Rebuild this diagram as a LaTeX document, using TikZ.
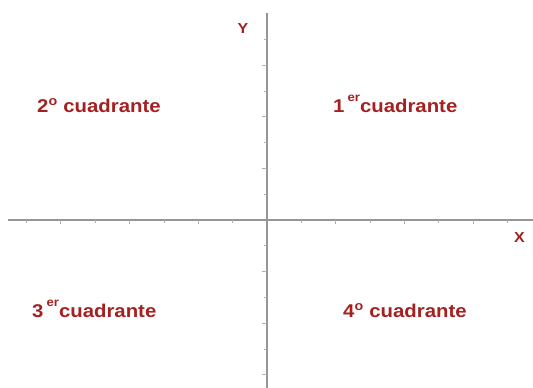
\documentclass[tikz,border=0pt]{standalone}
\usepackage{fontspec}
\newfontfamily\cuadfont{Liberation Sans}[FakeStretch=1.1]
\usepackage{tikz}
\definecolor{cuadred}{RGB}{165,32,32}
\definecolor{axisgray}{RGB}{150,150,150}
\definecolor{tickgray}{RGB}{175,175,175}
\newcommand{\supr}[1]{\raisebox{10.5pt}{\fontsize{12}{12}\selectfont #1}}

\begin{document}
\begin{tikzpicture}[x=1pt,y=-1pt,
    lbl/.style={text=cuadred,font=\cuadfont\bfseries\fontsize{18.5}{20}\selectfont,anchor=base west,inner sep=0pt},
    axlbl/.style={text=cuadred,font=\cuadfont\bfseries\fontsize{14.5}{16}\selectfont,anchor=base,inner sep=0pt},
    axis/.style={draw=axisgray,line width=1.4pt}]
  \useasboundingbox (0,0) rectangle (533,388);
  % axes
  \coordinate (xl) at (8,220);
  \coordinate (xr) at (533,220);
  \coordinate (yt) at (267,13);
  \coordinate (yb) at (267,388);
  \draw[axis] (xl)--(xr);
  \draw[axis] (yt)--(yb);
  % ticks
  \foreach \k in {-7,...,7}{
    \pgfmathsetmacro{\len}{mod(abs(\k),2)==0 ? 3.5 : 2.5}
    \ifnum\k=0\else
      \draw[tickgray,line width=0.9pt] (267+\k*34.35,220) -- ++(0,\len);
    \fi}
  \foreach \k in {-6,...,7}{
    \pgfmathsetmacro{\len}{mod(abs(\k),2)==0 ? 5 : 3}
    \ifnum\k=0\else
      \draw[tickgray,line width=0.9pt] (267,220-\k*25.8) -- ++(-\len,0);
    \fi}
  % labels
  \node[axlbl] (ylab) at (243,33) {Y};
  \node[axlbl] (xlab) at (519.5,242) {X};
  \node[lbl] (second) at (37,112) {2\textsuperscript{o} cuadrante};
  \node[lbl] (first) at (333,112) {1\,\supr{er}cuadrante};
  \node[lbl] (third) at (32,317) {3\,\supr{er}cuadrante};
  \node[lbl] (fourth) at (343,317) {4\textsuperscript{o} cuadrante};
\end{tikzpicture}
\end{document}
